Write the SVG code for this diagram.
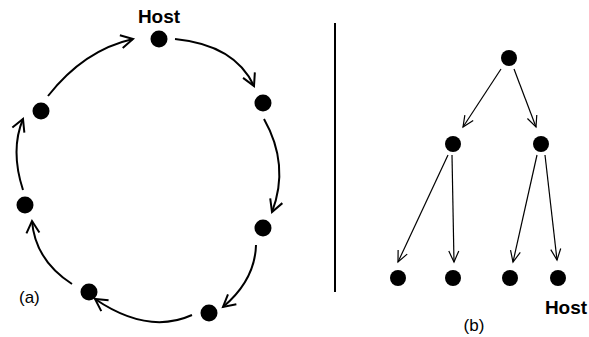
<svg xmlns="http://www.w3.org/2000/svg" width="589" height="337" viewBox="0 0 589 337">
  <style>
    .node { fill: #000; }
    .ring { fill: none; stroke: #000; stroke-width: 2; }
    .tree { fill: none; stroke: #000; stroke-width: 1.2; }
    .bold { font-family: "Liberation Sans", Arial, sans-serif; font-weight: bold; font-size: 19px; fill: #000; }
    .cap { font-family: "Liberation Sans", Arial, sans-serif; font-size: 17px; fill: #000; }
  </style>
  <defs>
    <marker id="headRing" markerUnits="userSpaceOnUse" markerWidth="20" markerHeight="20" refX="0" refY="0" viewBox="-13 -10 15 20" orient="auto">
      <path d="M-12,-6.5 L0,0 L-12,6.5" fill="none" stroke="#000" stroke-width="2"/>
    </marker>
    <marker id="headTree" markerUnits="userSpaceOnUse" markerWidth="20" markerHeight="20" refX="0" refY="0" viewBox="-12 -10 14 20" orient="auto">
      <path d="M-11,-5 L0,0 L-11,5" fill="none" stroke="#000" stroke-width="1.2"/>
    </marker>
  </defs>

  <!-- ring topology -->
  <g id="connectors-ring">
    <path class="ring" d="M48,96 Q84,50 133,39" marker-end="url(#headRing)"/>
    <path class="ring" d="M175,39 Q235,45 254,86" marker-end="url(#headRing)"/>
    <path class="ring" d="M264,119 Q290,165 272,212" marker-end="url(#headRing)"/>
    <path class="ring" d="M256,245 Q255,280 223,307" marker-end="url(#headRing)"/>
    <path class="ring" d="M192,315 Q148,335 95,299" marker-end="url(#headRing)"/>
    <path class="ring" d="M72,284 Q35,260 32,221" marker-end="url(#headRing)"/>
    <path class="ring" d="M23,190 Q10,150 23,119" marker-end="url(#headRing)"/>
  </g>
  <g id="r-host"><circle class="node" cx="159" cy="39" r="8.5"/><text class="bold" x="159" y="23" text-anchor="middle">Host</text></g>
  <g id="r1"><circle class="node" cx="263" cy="103" r="8.5"/></g>
  <g id="r2"><circle class="node" cx="263" cy="228" r="8.5"/></g>
  <g id="r3"><circle class="node" cx="209" cy="313" r="8.5"/></g>
  <g id="r4"><circle class="node" cx="89" cy="292" r="8.5"/></g>
  <g id="r5"><circle class="node" cx="25" cy="205" r="8.5"/></g>
  <g id="r6"><circle class="node" cx="41" cy="111" r="8.5"/></g>
  <text class="cap" x="19" y="303">(a)</text>

  <!-- divider -->
  <line x1="335" y1="23" x2="335" y2="292" stroke="#000" stroke-width="2"/>

  <!-- tree topology -->
  <g id="connectors-tree">
    <line class="tree" x1="501" y1="69" x2="463" y2="127" marker-end="url(#headTree)"/>
    <line class="tree" x1="514" y1="69" x2="536" y2="127" marker-end="url(#headTree)"/>
    <line class="tree" x1="448" y1="155" x2="398" y2="262" marker-end="url(#headTree)"/>
    <line class="tree" x1="452" y1="155" x2="454" y2="262" marker-end="url(#headTree)"/>
    <line class="tree" x1="537" y1="155" x2="513" y2="262" marker-end="url(#headTree)"/>
    <line class="tree" x1="545" y1="155" x2="557" y2="260" marker-end="url(#headTree)"/>
  </g>
  <g id="t-root"><circle class="node" cx="509" cy="58" r="8"/></g>
  <g id="t-left"><circle class="node" cx="453" cy="144" r="8"/></g>
  <g id="t-right"><circle class="node" cx="541" cy="144" r="8"/></g>
  <g id="t-leaf1"><circle class="node" cx="398" cy="278" r="8"/></g>
  <g id="t-leaf2"><circle class="node" cx="453" cy="278" r="8"/></g>
  <g id="t-leaf3"><circle class="node" cx="510" cy="278" r="8"/></g>
  <g id="t-host"><circle class="node" cx="558" cy="278" r="8"/><text class="bold" x="566" y="314" text-anchor="middle">Host</text></g>
  <text class="cap" x="474" y="331" text-anchor="middle">(b)</text>
</svg>
